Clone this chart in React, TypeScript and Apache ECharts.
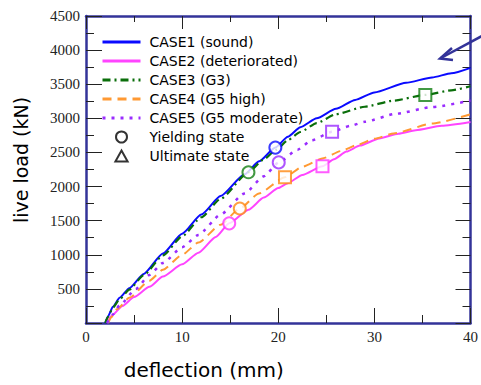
import React, { useEffect, useRef } from "react";
import * as echarts from "echarts";

const xTicks = [0, 10, 20, 30, 40];
const yMax = 4500;

const caseNames = [
  "CASE1 (sound)",
  "CASE2 (deteriorated)",
  "CASE3 (G3)",
  "CASE4 (G5 high)",
  "CASE5 (G5 moderate)",
];
const stateNames = ["Yielding state", "Ultimate state"];

const case1 = [
  [2.0, 0], [2.3, 100], [2.8, 240], [3.5, 370], [4.5, 510], [6.0, 720], [8.0, 1020],
  [10.0, 1310], [12.0, 1590], [14.0, 1860], [16.5, 2180], [18.0, 2370], [19.7, 2571],
  [21.0, 2730], [22.3, 2870], [24.0, 3000], [26.0, 3140], [28.0, 3270], [30.0, 3380],
  [33.3, 3520], [36.0, 3600], [38.0, 3660], [40.0, 3740],
];
const case2 = [
  [2.2, 0], [2.6, 100], [3.8, 250], [5.0, 380], [6.6, 530], [8.0, 680], [10.0, 860],
  [11.7, 1030], [13.5, 1260], [14.9, 1461], [16.9, 1660], [18.5, 1838], [20.0, 1980],
  [21.0, 2050], [22.5, 2170], [24.6, 2296], [25.8, 2400], [27.1, 2513], [28.5, 2600],
  [30.5, 2706], [32.5, 2775], [34.3, 2826], [37.0, 2890], [40.0, 2945],
];
const case3 = [
  [2.0, 0], [2.3, 95], [2.8, 225], [3.5, 350], [4.5, 490], [6.0, 700], [8.0, 990],
  [10.0, 1270], [12.0, 1550], [14.0, 1820], [16.9, 2210], [18.5, 2400], [19.8, 2540],
  [21.0, 2680], [22.3, 2800], [24.0, 2930], [26.0, 3060], [29.0, 3170], [32.0, 3260],
  [35.3, 3343], [38.0, 3410], [40.0, 3470],
];
const case4 = [
  [2.3, 0], [2.6, 80], [3.2, 200], [4.5, 370], [6.6, 620], [8.0, 780], [10.0, 1000],
  [11.7, 1180], [14.0, 1440], [16.0, 1678], [18.0, 1900], [20.7, 2137], [22.5, 2290],
  [24.7, 2416], [26.5, 2520], [28.2, 2609], [30.0, 2700], [32.0, 2778], [36.0, 2923],
  [40.0, 3060],
];
const case5 = [
  [2.2, 0], [2.8, 126], [3.5, 260], [5.2, 500], [6.6, 705], [8.0, 880], [10.0, 1110],
  [11.7, 1290], [14.0, 1590], [16.5, 1900], [18.5, 2150], [20.05, 2354], [22.0, 2540],
  [23.5, 2680], [25.6, 2802], [27.5, 2890], [29.0, 2950], [32.3, 3068], [36.0, 3165],
  [40.0, 3260],
];

const yieldPoints = [[19.7, 2571], [14.9, 1461], [16.9, 2209], [16.0, 1678], [20.05, 2354]];
const ultimatePoints: (number[] | null)[] = [null, [24.6, 2296], [35.3, 3343], [20.7, 2137], [25.6, 2802]];

const curves = [case1, case2, case3, case4, case5];
const colors = ["#0a0aff", "#ff44ff", "#0a6e0a", "#ff9933", "#9a2cff"];
const markerColors = ["#0a0aff", "#ff33ff", "#137f13", "#ff8811", "#9a2cff"];
const dashTypes: any[] = ["solid", "solid", [8, 4, 2, 4], [9, 6], [3, 6]];
const lineWidths = [2, 2, 2.2, 2, 2.5];

export default function App() {
  const ref = useRef<HTMLDivElement>(null);
  useEffect(() => {
    if (!ref.current) return;
    const chart = echarts.init(ref.current, null, { renderer: "svg" });
    const axisColor = "#333399";
    const labelFont = { fontFamily: '"Liberation Serif", "Times New Roman", serif', fontSize: 15, color: "#222" };

    const lineSeries = curves.map((d, i) => ({
      name: caseNames[i],
      type: "line",
      data: d,
      symbol: "none",
      smooth: 0.2,
      smoothMonotone: "x",
      lineStyle: { color: colors[i], width: lineWidths[i], type: dashTypes[i] },
      itemStyle: { color: colors[i] },
      z: 2,
    }));

    const markerSeries = curves.map((_, i) => {
      const data: any[] = [{ value: yieldPoints[i], symbol: "circle", symbolSize: 12 }];
      const u = ultimatePoints[i];
      if (u) data.push({ value: u, symbol: "rect", symbolSize: 12 });
      return {
        name: caseNames[i] + " markers",
        type: "scatter",
        data,
        itemStyle: { color: "#fff", borderColor: markerColors[i], borderWidth: 2 },
        z: 5,
      };
    });

    const stateStyle = { color: "#fff", borderColor: "#000", borderWidth: 2 };
    const legendSeries = [
      { name: stateNames[0], type: "scatter", data: [], symbol: "circle", itemStyle: stateStyle },
      { name: stateNames[1], type: "scatter", data: [], symbol: "triangle", itemStyle: stateStyle },
    ];

    const hiddenSymbol = { color: "transparent", borderColor: "transparent", borderWidth: 0 };

    chart.setOption({
      animation: false,
      grid: { left: 86, right: 5, top: 16, bottom: 58, containLabel: false },
      legend: {
        data: [
          ...caseNames.map((n) => ({ name: n, itemStyle: hiddenSymbol })),
          { name: stateNames[0], icon: "circle" },
          { name: stateNames[1], icon: "path://M5,0L10,9L0,9Z" },
        ],
        orient: "vertical",
        left: 101,
        top: 35,
        padding: 0,
        itemWidth: 38,
        itemHeight: 11,
        itemGap: 5,
        symbolKeepAspect: true,
        lineStyle: { width: 3 },
        textStyle: { fontFamily: "DejaVu Sans", fontSize: 14, color: "#000", padding: [0, 0, 0, 4] },
        selectedMode: false,
      },
      xAxis: [
        {
          type: "value",
          position: "bottom",
          min: xTicks[0],
          max: xTicks[xTicks.length - 1],
          interval: 10,
          axisLine: { show: true, onZero: false, lineStyle: { color: axisColor, width: 2.5 } },
          axisTick: { show: true, inside: true, length: 15, lineStyle: { color: "#222", width: 1 } },
          minorTick: { show: true, splitNumber: 2, length: 8, lineStyle: { color: "#222", width: 1 } },
          splitLine: { show: false },
          axisLabel: { ...labelFont, margin: 6 },
          name: "deflection (mm)",
          nameLocation: "middle",
          nameGap: 37,
          nameTextStyle: { fontFamily: "DejaVu Sans", fontSize: 20, color: "#000", padding: [0, 149, 0, 0] },
        },
        {
          type: "value",
          position: "top",
          min: xTicks[0],
          max: xTicks[xTicks.length - 1],
          interval: 10,
          axisLine: { show: true, onZero: false, lineStyle: { color: axisColor, width: 2.5 } },
          axisTick: { show: true, inside: true, length: 13, lineStyle: { color: "#222", width: 1 } },
          minorTick: { show: true, splitNumber: 2, length: 6, lineStyle: { color: "#222", width: 1 } },
          splitLine: { show: false },
          axisLabel: { show: false },
        },
      ],
      yAxis: [
        {
          type: "value",
          position: "left",
          min: 0,
          max: yMax,
          interval: 500,
          axisLine: { show: true, onZero: false, lineStyle: { color: axisColor, width: 2.5 } },
          axisTick: { show: true, inside: true, length: 16, lineStyle: { color: "#222", width: 1 } },
          minorTick: { show: true, splitNumber: 2, length: 8, lineStyle: { color: "#222", width: 1 } },
          splitLine: { show: false },
          axisLabel: { ...labelFont, margin: 6, formatter: (v: number) => (v === 0 ? "" : String(v)) },
          name: "live load (kN)",
          nameLocation: "middle",
          nameGap: 56,
          nameRotate: 90,
          nameTextStyle: { fontFamily: "DejaVu Sans", fontSize: 19, color: "#000", padding: [0, 0, 0, 19] },
        },
        {
          type: "value",
          position: "right",
          min: 0,
          max: yMax,
          interval: 500,
          axisLine: { show: true, onZero: false, lineStyle: { color: axisColor, width: 2.5 } },
          axisTick: { show: true, inside: true, length: 15, lineStyle: { color: "#222", width: 1 } },
          minorTick: { show: true, splitNumber: 2, length: 8, lineStyle: { color: "#222", width: 1 } },
          splitLine: { show: false },
          axisLabel: { show: false },
        },
      ],
      graphic: [
        {
          type: "line",
          shape: { x1: 482, y1: 36, x2: 441, y2: 58 },
          style: { stroke: axisColor, lineWidth: 2.5 },
          z: 10,
        },
        {
          type: "polyline",
          shape: { points: [[452, 48], [440, 58.5], [453, 60]] },
          style: { stroke: axisColor, lineWidth: 2.5, fill: "none" },
          z: 10,
        },
      ],
      series: [...lineSeries, ...markerSeries, ...legendSeries],
    });
    return () => chart.dispose();
  }, []);
  return (
    <div
      ref={ref}
      style={{ position: "fixed", left: 0, top: 0, width: 481, height: 385, background: "#fff" }}
    />
  );
}
